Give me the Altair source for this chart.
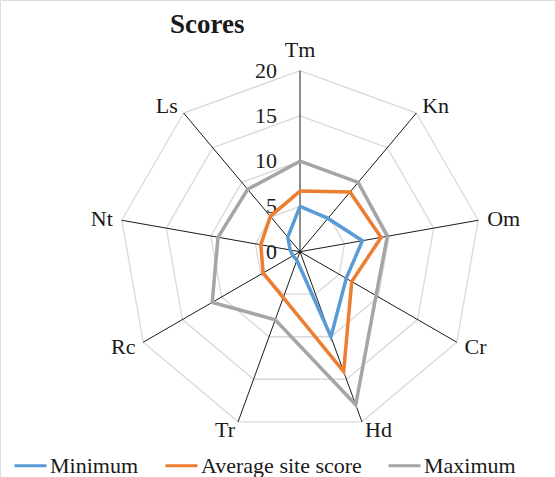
import altair as alt
import pandas as pd

# Radar axes (clockwise from the top) and the three score series
categories = ["Tm", "Kn", "Om", "Cr", "Hd", "Tr", "Rc", "Nt", "Ls"]
minimum = [5, 4.8, 7.0, 5.9, 10, 1.0, 0.9, 1.1, 2.1]
average = [6.7, 8.6, 9.1, 6.6, 14.1, 5.4, 4.7, 4.4, 5.1]
maximum = [10, 10, 9.8, 9.7, 18, 8, 11.2, 9.2, 9]
series_names = ["Minimum", "Average site score", "Maximum"]
series_colors = ["#5B9BD5", "#ED7D31", "#A5A5A5"]
grid_levels = [5, 10, 15, 20]
tick_levels = [0, 5, 10, 15, 20]
r_max = 20

W, H = 555, 477
px_per_unit = 9.05
cx, cy = 300, 251.7
xs = alt.Scale(domain=[-cx / px_per_unit, (W - cx) / px_per_unit], nice=False, zero=False)
ys = alt.Scale(domain=[-(H - cy) / px_per_unit, cy / px_per_unit], nice=False, zero=False)
FONT = "Liberation Serif"
TXT = "#1a1a1a"
n = len(categories)
ANG = f"datum.i * 2 * PI / {n}"

# Series table: closed polygons (first axis repeated at the end)
rows = []
for name, vals in zip(series_names, [minimum, average, maximum]):
    for k in range(n + 1):
        rows.append({"series": name, "k": k, "i": k % n, "v": vals[k % n]})
series_df = pd.DataFrame(rows)

ring_rows = [{"level": lv, "k": k, "i": k % n} for lv in grid_levels for k in range(n + 1)]
ring_df = pd.DataFrame(ring_rows)

cat_df = pd.DataFrame({"cat": categories, "i": list(range(n))})
tick_df = pd.DataFrame({"level": tick_levels, "label": [str(t) for t in tick_levels]})

def X(f):
    return alt.X(f, type="quantitative", scale=xs, axis=None)

def Y(f):
    return alt.Y(f, type="quantitative", scale=ys, axis=None)

rings = alt.Chart(ring_df).transform_calculate(
    px=f"datum.level * sin({ANG})", py=f"datum.level * cos({ANG})"
).mark_line(color="#D9D9D9", strokeWidth=1.3).encode(
    x=X("px"), y=Y("py"), detail="level:N", order="k:Q"
)

spokes = alt.Chart(cat_df).transform_calculate(
    x0="0", y0="0",
    x1=f"{r_max} * sin({ANG})", y1=f"{r_max} * cos({ANG})"
).mark_rule(color="#1a1a1a", strokeWidth=1).encode(
    x=X("x0"), y=Y("y0"), x2="x1:Q", y2="y1:Q"
)

ticks = alt.Chart(tick_df).transform_calculate(zero="0").mark_text(
    font=FONT, fontSize=22, align="right", baseline="middle", dx=-23, color=TXT
).encode(x=X("zero"), y=Y("level"), text="label:N")

label_r = r_max + 1
def cat_labels(filter_expr, **kw):
    return alt.Chart(cat_df).transform_filter(filter_expr).transform_calculate(
        lx=f"{label_r} * sin({ANG})", ly=f"{label_r} * cos({ANG})"
    ).mark_text(font=FONT, fontSize=22, color=TXT, **kw).encode(
        x=X("lx"), y=Y("ly"), text="cat:N"
    )

lab_top = cat_labels("datum.i == 0", align="center", baseline="bottom")
lab_right = cat_labels(f"datum.i > 0 && datum.i <= {n // 2}", align="left", baseline="middle")
lab_left = cat_labels(f"datum.i > {n // 2}", align="right", baseline="middle")

lines = alt.Chart(series_df).transform_calculate(
    px=f"datum.v * sin({ANG})", py=f"datum.v * cos({ANG})"
).mark_line(strokeWidth=3.5, strokeJoin="miter").encode(
    x=X("px"), y=Y("py"), order="k:Q",
    color=alt.Color(
        "series:N",
        scale=alt.Scale(domain=series_names, range=series_colors),
        legend=alt.Legend(
            title=None, orient="none", direction="horizontal",
            legendX=13, legendY=448, symbolType="stroke", symbolSize=1024,
            symbolStrokeWidth=3, labelFont=FONT, labelFontSize=22,
            labelColor=TXT, labelLimit=400, labelOffset=2, columnPadding=20,
            padding=0,
        ),
    ),
)

title = alt.Chart(pd.DataFrame({"t": ["Scores"]})).mark_text(
    font=FONT, fontSize=27, fontWeight="bold", align="left",
    baseline="alphabetic", color=TXT
).encode(x=alt.value(170), y=alt.value(33), text="t:N")

chart = alt.layer(rings, spokes, ticks, lab_top, lab_right, lab_left, lines, title).properties(
    width=W, height=H, autosize=alt.AutoSizeParams(type="none"),
    padding={"left": 0, "top": 0, "right": 0, "bottom": 0},
).configure_view(stroke=None).configure_legend(
    labelFont=FONT, labelFontSize=22, labelColor=TXT
).configure(background="white")

chart.save("out.html", embed_options={"renderer": "svg", "actions": False})
